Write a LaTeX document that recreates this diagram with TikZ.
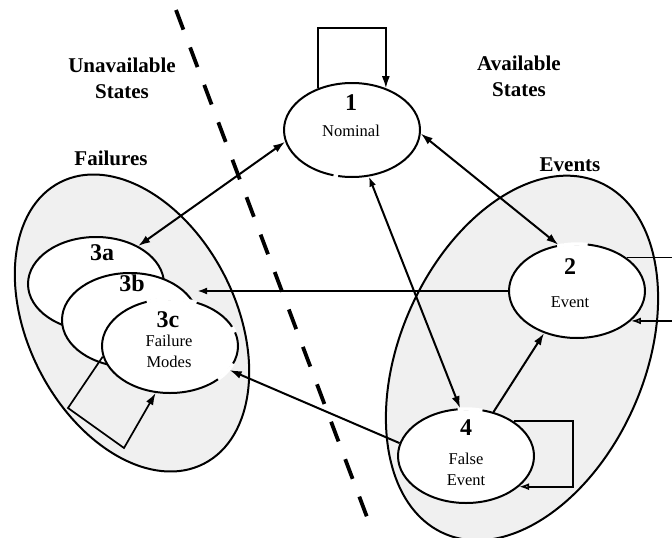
\documentclass[tikz,border=0pt]{standalone}
\usepackage{fontspec}
\setmainfont{Liberation Serif}
\usetikzlibrary{shapes.geometric, arrows.meta}

\begin{document}
\begin{tikzpicture}[x=1pt, y=-1pt,
  region/.style={ellipse, draw, line width=2pt, fill=black!6, inner sep=0pt},
  state/.style={ellipse, draw, line width=2pt, fill=white,
                minimum width=136pt, minimum height=94pt, inner sep=0pt},
  numtext/.style={font=\bfseries\fontsize{24}{24}\selectfont, inner sep=0pt},
  smalltext/.style={font=\fontsize{16.5}{21}\selectfont, align=center, inner sep=0pt},
  heading/.style={font=\bfseries\fontsize{21}{26}\selectfont, align=center, inner sep=0pt},
  link/.style={line width=2pt},
  loopline/.style={line width=1.7pt},
  arrowend/.style={-{Latex[length=12pt,width=8pt]}},
  arrowboth/.style={{Latex[length=12pt,width=8pt]}-{Latex[length=12pt,width=8pt]}},
  arrowopen/.style={-{Latex[open,length=10pt,width=7pt]}},
  divider/.style={line width=3.8pt, dash pattern=on 21pt off 19pt},
  gap/.style={draw=white, line width=3.4pt},
]
\useasboundingbox (0,0) rectangle (672,538);
\clip (0,0) rectangle (672,538);

% shaded groupings
\node[region, minimum width=316pt, minimum height=208pt, rotate=-63] (failures) at (132,323) {};
\node[region, minimum width=384pt, minimum height=244pt, rotate=66] (events) at (522,358) {};

% headings
\node[heading] (hunavail) at (122,78) {Unavailable\\States};
\node[heading] (havail) at (519,76) {Available\\States};
\node[heading] (hfail) at (111,158) {Failures};
\node[heading] (hevents) at (570,165) {Events};

% states
\node[state] (n1) at (352,130) {};
\node[state] (n2) at (577,291) {};
\node[state] (n4) at (466,456) {};
\node[state] (n3a) at (96,284) {};
\node[state] (n3b) at (130,320) {};
\node[state] (n3c) at (170,346) {};

% breaks in the state outlines next to the arrow ends
\draw[gap] plot[domain=-106:-102, samples=4] ({352+67*cos(\x)},{130-47*sin(\x)});
\draw[gap] plot[domain=81:107, samples=8] ({577+68*cos(\x)},{291-47*sin(\x)});
\draw[gap] plot[domain=76:97, samples=8] ({466+68*cos(\x)},{456-47*sin(\x)});
\draw[gap] plot[domain=67:110, samples=10] ({170+68*cos(\x)},{346-47*sin(\x)});
\draw[gap] plot[domain=17:24, samples=4] ({170+68*cos(\x)},{346-47*sin(\x)});
\draw[gap] plot[domain=-45:-22, samples=6] ({170+68*cos(\x)},{346-47*sin(\x)});

% state labels
\node[numtext] (t1) at (351,103) {1};
\node[smalltext] (t1b) at (351,131) {Nominal};
\node[numtext] (t2) at (570,267) {2};
\node[smalltext] (t2b) at (570,302) {Event};
\node[numtext] (t4) at (466,428) {4};
\node[smalltext] (t4b) at (466,469) {False\\Event};
\node[numtext] (t3a) at (102,253) {3a};
\node[numtext] (t3b) at (132,283) {3b};
\node[numtext] (t3c) at (168,320) {3c};
\node[smalltext] (t3cb) at (169,351) {Failure\\Modes};

% transitions
\draw[link, arrowboth] (n1.190) -- (n3a.42);
\draw[link, arrowboth] (n1.-3) -- (n2.112);
\draw[link, {Latex[open,length=10pt,width=7pt]}-{Latex[length=12pt,width=8pt]}] (n1.-70) -- (n4.97);
\draw[link, arrowopen] (n2.west) -- ([xshift=14pt]n2.west -| n3b.30);
\draw[link, arrowend] (n4.169) -- (n3c.-22);
\draw[link, arrowend] (n4.58) -- (n2.-128);

% self loops
\coordinate (l1) at (352,28);
\draw[loopline, arrowend] (n1.129) |- (l1) -| (n1.51);

\coordinate (edgeR) at (690,0);
\draw[loopline] (n2.34) -- (n2.34 -| edgeR);
\draw[loopline, arrowopen] (n2.-29 -| edgeR) -- (n2.-29);

\coordinate (l4) at (573,456);
\draw[loopline, arrowopen] (n4.36) -| (l4) |- (n4.-30);

\coordinate (l3a) at (68,408);
\coordinate (l3b) at (124,448);
\draw[loopline, arrowend] (n3c.189) -- (l3a) -- (l3b) -- (n3c.-107);

% availability boundary
\coordinate (dtop) at (176,10);
\coordinate (dbot) at (373,533);
\draw[divider] (dtop) -- (dbot);
\end{tikzpicture}
\end{document}
